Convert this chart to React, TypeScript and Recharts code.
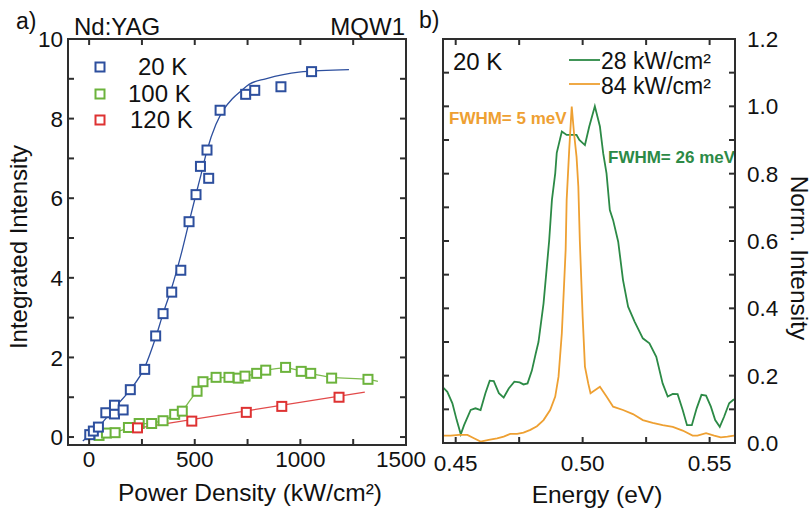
import React from 'react';
import { ComposedChart, Line, Scatter, XAxis, YAxis } from 'recharts';

// ---------- Panel a) data ----------
const powerTicks = [0, 250, 500, 750, 1000, 1250, 1500];
const intensityTicks = [0, 1, 2, 3, 4, 5, 6, 7, 8, 9, 10];

const pts20K = [
  [3, 0.06], [20, 0.15], [44, 0.25], [79, 0.61], [120, 0.58], [120, 0.8], [161, 0.68],
  [195, 1.19], [263, 1.7], [315, 2.54], [350, 3.1], [391, 3.64], [434, 4.19], [473, 5.41],
  [506, 6.09], [527, 6.8], [558, 7.21], [566, 6.5], [620, 8.21], [741, 8.61], [784, 8.71],
  [908, 8.8], [1053, 9.18],
].map(([x, y]) => ({ x, y }));

const fit20K = [
  [-30, -0.1], [47, 0.27], [126, 0.77], [195, 1.19], [263, 1.75], [315, 2.5], [350, 3.1],
  [391, 3.75], [436, 4.6], [473, 5.4], [506, 6.1], [530, 6.6], [558, 7.2], [600, 7.85],
  [640, 8.25], [678, 8.5], [720, 8.7], [757, 8.86], [836, 9.0], [993, 9.17], [1230, 9.23],
].map(([x, y]) => ({ x, y }));

const pts100K = [
  [47, 0.04], [82, 0.1], [123, 0.11], [186, 0.24], [237, 0.34], [296, 0.34], [350, 0.41],
  [405, 0.57], [441, 0.65], [511, 1.15], [539, 1.39], [601, 1.5], [662, 1.5], [706, 1.48],
  [738, 1.53], [793, 1.6], [836, 1.68], [930, 1.75], [1004, 1.65], [1049, 1.6], [1148, 1.48],
  [1320, 1.45],
].map(([x, y]) => ({ x, y }));

const fit100K = [
  [20, 0.0], [47, 0.04], [82, 0.09], [123, 0.12], [186, 0.23], [237, 0.32], [296, 0.35],
  [350, 0.42], [405, 0.55], [441, 0.66], [475, 0.9], [511, 1.17], [539, 1.38], [601, 1.49],
  [662, 1.5], [706, 1.5], [738, 1.53], [793, 1.6], [836, 1.67], [930, 1.74], [1004, 1.66],
  [1049, 1.6], [1148, 1.5], [1320, 1.45], [1367, 1.4],
].map(([x, y]) => ({ x, y }));

const pts120K = [
  [229, 0.23], [486, 0.4], [744, 0.62], [912, 0.77], [1183, 1.0],
].map(([x, y]) => ({ x, y }));

const fit120K = [
  [200, 0.2], [1305, 1.13],
].map(([x, y]) => ({ x, y }));

// ---------- Panel b) data ----------
const energyTicks = [0.45, 0.475, 0.5, 0.525, 0.55];
const normTicks = [0, 0.1, 0.2, 0.3, 0.4, 0.5, 0.6, 0.7, 0.8, 0.9, 1.0, 1.1, 1.2];

const spec28 = [
  [0.4448, 0.167], [0.4467, 0.152], [0.4487, 0.118], [0.4504, 0.068], [0.452, 0.026],
  [0.4533, 0.053], [0.4559, 0.098], [0.4578, 0.103], [0.4598, 0.098], [0.4617, 0.148],
  [0.4634, 0.185], [0.465, 0.184], [0.467, 0.148], [0.4689, 0.135], [0.4709, 0.162],
  [0.4731, 0.182], [0.4752, 0.18], [0.4767, 0.174], [0.4783, 0.177], [0.48, 0.215],
  [0.4815, 0.265], [0.4826, 0.3], [0.4846, 0.415], [0.4859, 0.524], [0.4868, 0.6],
  [0.4879, 0.722], [0.4892, 0.801], [0.4898, 0.862], [0.4918, 0.925], [0.4937, 0.915],
  [0.4963, 0.915], [0.4976, 0.915], [0.4987, 0.9], [0.5009, 0.885], [0.5026, 0.94],
  [0.5048, 1.0], [0.5068, 0.94], [0.5081, 0.86], [0.5094, 0.801], [0.5107, 0.692],
  [0.512, 0.662], [0.514, 0.598], [0.5159, 0.484], [0.5179, 0.405], [0.5205, 0.36],
  [0.5237, 0.311], [0.5263, 0.296], [0.529, 0.256], [0.5315, 0.177], [0.5335, 0.138],
  [0.5355, 0.146], [0.5374, 0.145], [0.5394, 0.098], [0.5411, 0.053], [0.543, 0.053],
  [0.5449, 0.103], [0.5468, 0.143], [0.5486, 0.141], [0.5505, 0.108], [0.5522, 0.068],
  [0.554, 0.048], [0.5557, 0.078], [0.5577, 0.118], [0.5596, 0.13],
].map(([x, y]) => ({ x, y }));

const spec84 = [
  [0.4448, 0.022], [0.448, 0.022], [0.4513, 0.024], [0.4546, 0.024], [0.4572, 0.014],
  [0.4598, 0.004], [0.463, 0.009], [0.4663, 0.014], [0.4689, 0.019], [0.4715, 0.027],
  [0.4742, 0.027], [0.4767, 0.031], [0.4794, 0.039], [0.482, 0.05], [0.4846, 0.068],
  [0.4872, 0.098], [0.4892, 0.138], [0.4905, 0.197], [0.4918, 0.326], [0.4927, 0.474],
  [0.4933, 0.573], [0.4937, 0.722], [0.4947, 0.87], [0.4957, 0.999], [0.4966, 0.92],
  [0.4976, 0.85], [0.4983, 0.761], [0.4989, 0.598], [0.5, 0.375], [0.5009, 0.227],
  [0.5022, 0.177], [0.5031, 0.148], [0.5048, 0.157], [0.5068, 0.167], [0.5094, 0.138],
  [0.512, 0.108], [0.5159, 0.098], [0.5198, 0.086], [0.5237, 0.068], [0.5276, 0.06],
  [0.5315, 0.053], [0.5355, 0.048], [0.5394, 0.037], [0.5433, 0.022], [0.5452, 0.022],
  [0.5486, 0.029], [0.5518, 0.022], [0.5544, 0.017], [0.557, 0.019], [0.5596, 0.022],
].map(([x, y]) => ({ x, y }));

// ---------- styles ----------
const FONT = "'Liberation Sans', Arial, sans-serif";
const AXIS = '#2e2e2e';
const LW = 2;
const BLUE = '#2d4f9e';
const GREEN_SQ = '#6cb33c';
const RED = '#de3232';
const GREEN_L = '#2c8a46';
const ORANGE = '#eea032';
const TICK_FS = 22.5;
const TICK_LEN = 6;

const square = (color: string) => (props: any) => {
  const { cx, cy } = props;
  if (cx == null || cy == null) return <g />;
  return (
    <rect x={cx - 4.5} y={cy - 4.5} width={9} height={9} fill="#fff" stroke={color} strokeWidth={2} />
  );
};

const fmtPower = (v: number) => (v % 500 === 0 ? String(v) : '');
const fmtInt = (v: number) => (v % 2 === 0 ? String(v) : '');
const fmtEnergy = (v: number) => (Math.round(v * 1000) % 50 === 0 ? v.toFixed(2) : '');
const fmtNorm = (v: number) => (Math.round(v * 10) % 2 === 0 ? v.toFixed(1) : '');
const blank = (_v: number) => '';

// tick renderer: inward tick mark at the axis position given by the library, plus the label
const makeTick = (orient: 'bottom' | 'top' | 'left' | 'right', fmt: (v: number) => string, gap: number) =>
  (props: any) => {
    const { x, y, payload } = props;
    const label = fmt(payload.value);
    let d = '';
    let text = null;
    if (orient === 'bottom') {
      d = `M${x},${y}V${y - TICK_LEN}`;
      if (label) text = <text x={x + (payload.value === 1500 ? -5 : 0)} y={y + gap} textAnchor="middle" fontSize={TICK_FS} fill="#111" fontFamily={FONT}>{label}</text>;
    } else if (orient === 'top') {
      d = `M${x},${y}V${y + TICK_LEN}`;
    } else if (orient === 'left') {
      d = `M${x},${y}H${x + TICK_LEN}`;
      if (label) text = <text x={x - gap} y={y} dy="0.36em" textAnchor="end" fontSize={TICK_FS} fill="#111" fontFamily={FONT}>{label}</text>;
    } else {
      d = `M${x},${y}H${x - TICK_LEN}`;
      if (label) text = <text x={x + gap} y={y} dy="0.36em" textAnchor="start" fontSize={TICK_FS} fill="#111" fontFamily={FONT}>{label}</text>;
    }
    return (
      <g>
        <path d={d} stroke={AXIS} strokeWidth={LW} fill="none" />
        {text}
      </g>
    );
  };

const axisCommon = { tickSize: 0, tickMargin: 0, tickLine: false, axisLine: { stroke: AXIS, strokeWidth: LW }, interval: 0 as const, allowDataOverflow: true, type: 'number' as const };

export default function App() {
  return (
    <div style={{ position: 'absolute', left: 0, top: 0, width: 811, height: 510, background: '#fff', fontFamily: FONT }}>
      {/* Text layer (behind the charts) */}
      <svg width={811} height={510} style={{ position: 'absolute', left: 0, top: 0 }} fontFamily={FONT}>
        {/* plot frames, aligned with the chart plot boxes */}
        <rect x={68} y={39} width={338} height={406} fill="none" stroke={AXIS} strokeWidth={LW} />
        <rect x={443} y={39} width={292} height={404} fill="none" stroke={AXIS} strokeWidth={LW} />

        <text x={16} y={29} fontSize={23} fill="#111">a)</text>
        <text x={419} y={28} fontSize={23} fill="#111">b)</text>
        <text x={74} y={35} fontSize={24} fill="#111">Nd:YAG</text>
        <text x={405} y={35} fontSize={24} fill="#111" textAnchor="end">MQW1</text>

        <text x={18} y={247} fontSize={24} fill="#111" textAnchor="middle" transform="rotate(-90 18 247)" dominantBaseline="central">Integrated Intensity</text>
        <text x={250} y={501} fontSize={24.5} fill="#111" textAnchor="middle">Power Density (kW/cm²)</text>

        <text x={453} y={70} fontSize={24} fill="#111">20 K</text>
        <text x={601} y={69} fontSize={23} fill="#111">28 kW/cm²</text>
        <text x={601} y={94} fontSize={23} fill="#111">84 kW/cm²</text>
        <text x={449} y={124} fontSize={17} fontWeight="bold" fill={ORANGE}>FWHM= 5 meV</text>
        <text x={608} y={163} fontSize={17} fontWeight="bold" fill={GREEN_L}>FWHM= 26 meV</text>

        <text x={799} y={258} fontSize={24.5} fill="#111" textAnchor="middle" transform="rotate(90 799 258)" dominantBaseline="central">Norm. Intensity</text>
        <text x={597} y={503} fontSize={24.5} fill="#111" textAnchor="middle">Energy (eV)</text>
      </svg>

      {/* Panel a */}
      <div style={{ position: 'absolute', left: 0, top: 0 }}>
        <ComposedChart width={440} height={510} margin={{ top: 38, right: 33, bottom: 35, left: 0 }}>
          <XAxis xAxisId="b" dataKey="x" domain={[-100, 1500]} ticks={powerTicks} height={30}
            tick={makeTick('bottom', fmtPower, 22)} {...axisCommon} />
          <XAxis xAxisId="t" orientation="top" dataKey="x" domain={[-100, 1500]} ticks={powerTicks} height={1}
            tick={makeTick('top', blank, 0)} {...axisCommon} />
          <YAxis yAxisId="l" dataKey="y" domain={[-0.2, 10]} ticks={intensityTicks} width={68}
            tick={makeTick('left', fmtInt, 5)} {...axisCommon} />
          <YAxis yAxisId="r" orientation="right" dataKey="y" domain={[-0.2, 10]} ticks={intensityTicks} width={1}
            tick={makeTick('right', blank, 0)} {...axisCommon} />
          <Line xAxisId="b" yAxisId="l" data={fit20K} dataKey="y" type="monotone" stroke={BLUE} strokeWidth={1.3} dot={false} isAnimationActive={false} />
          <Line xAxisId="b" yAxisId="l" data={fit100K} dataKey="y" type="monotone" stroke="#7dbb4e" strokeWidth={1.3} dot={false} isAnimationActive={false} />
          <Line xAxisId="b" yAxisId="l" data={fit120K} dataKey="y" type="linear" stroke="#e24a4a" strokeWidth={1.3} dot={false} isAnimationActive={false} />
          <Scatter xAxisId="b" yAxisId="l" data={pts100K} dataKey="y" shape={square(GREEN_SQ)} isAnimationActive={false} />
          <Scatter xAxisId="b" yAxisId="l" data={pts120K} dataKey="y" shape={square(RED)} isAnimationActive={false} />
          <Scatter xAxisId="b" yAxisId="l" data={pts20K} dataKey="y" shape={square(BLUE)} isAnimationActive={false} />
        </ComposedChart>
      </div>

      {/* Panel b */}
      <div style={{ position: 'absolute', left: 420, top: 0 }}>
        <ComposedChart width={391} height={510} margin={{ top: 38, right: 16, bottom: 37, left: 22 }}>
          <XAxis xAxisId="b" dataKey="x" domain={[0.445, 0.56]} ticks={energyTicks} height={30}
            tick={makeTick('bottom', fmtEnergy, 28)} {...axisCommon} />
          <XAxis xAxisId="t" orientation="top" dataKey="x" domain={[0.445, 0.56]} ticks={energyTicks} height={1}
            tick={makeTick('top', blank, 0)} {...axisCommon} />
          <YAxis yAxisId="l" dataKey="y" domain={[0, 1.2]} ticks={normTicks} width={1}
            tick={makeTick('left', blank, 0)} {...axisCommon} />
          <YAxis yAxisId="r" orientation="right" dataKey="y" domain={[0, 1.2]} ticks={normTicks} width={60}
            tick={makeTick('right', fmtNorm, 12)} {...axisCommon} />
          <Line xAxisId="b" yAxisId="r" data={spec28} dataKey="y" type="linear" stroke={GREEN_L} strokeWidth={1.8} dot={false} isAnimationActive={false} />
          <Line xAxisId="b" yAxisId="r" data={spec84} dataKey="y" type="linear" stroke={ORANGE} strokeWidth={1.8} dot={false} isAnimationActive={false} />
        </ComposedChart>
      </div>

      {/* Legends (on top) */}
      <svg width={811} height={510} style={{ position: 'absolute', left: 0, top: 0, pointerEvents: 'none' }} fontFamily={FONT}>
        <rect x={95.5} y={62.5} width={9} height={9} fill="#fff" stroke={BLUE} strokeWidth={2} />
        <rect x={95.5} y={89.5} width={9} height={9} fill="#fff" stroke={GREEN_SQ} strokeWidth={2} />
        <rect x={95.5} y={115.5} width={9} height={9} fill="#fff" stroke={RED} strokeWidth={2} />
        <text x={138} y={75} fontSize={24} fill="#111">20 K</text>
        <text x={128} y={102} fontSize={24} fill="#111">100 K</text>
        <text x={130} y={128} fontSize={24} fill="#111">120 K</text>
        <line x1={569} y1={60} x2={600} y2={60} stroke={GREEN_L} strokeWidth={1.8} />
        <line x1={569} y1={84} x2={600} y2={84} stroke={ORANGE} strokeWidth={1.8} />
      </svg>
    </div>
  );
}
